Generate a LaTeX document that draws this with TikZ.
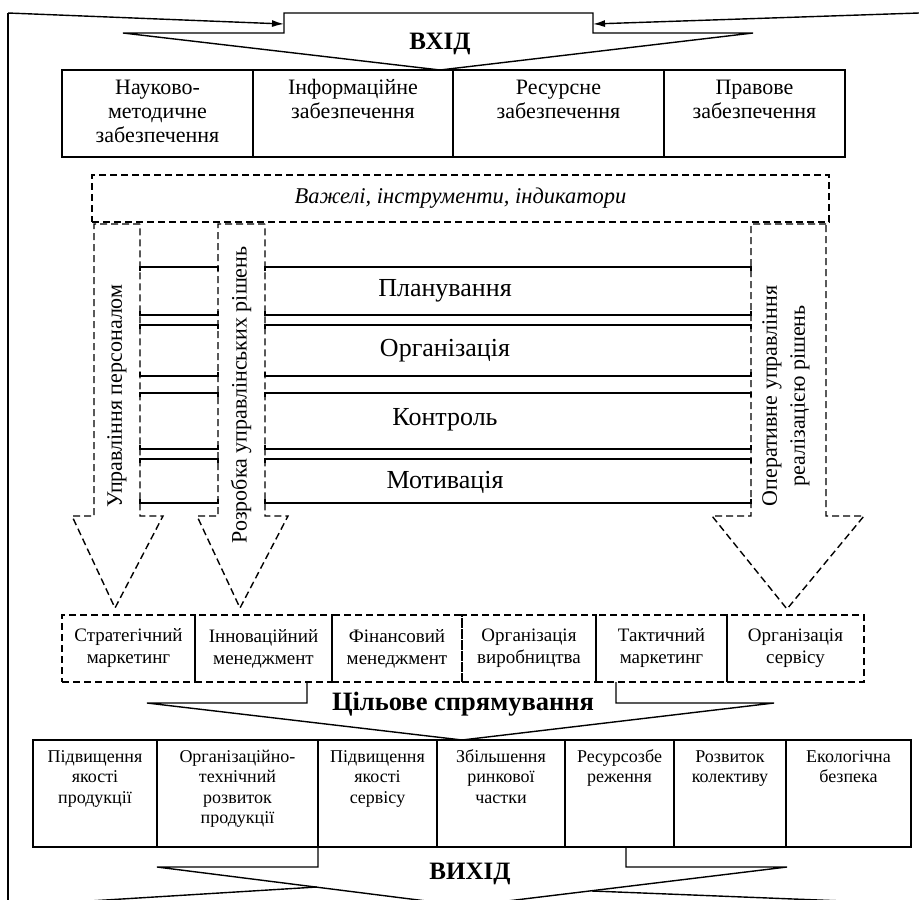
\documentclass[tikz,border=0pt]{standalone}
\usepackage{fontspec}
\setmainfont{Liberation Serif}
\usetikzlibrary{arrows.meta}

% top-aligned text inside a fixed cell
\newcommand{\boxtext}[3]{\parbox[c][#2][t]{#1}{\centering\strut #3}}

\begin{document}
\begin{tikzpicture}[x=1pt,y=-1pt,line width=1.4pt,
  inbox/.style={draw,inner sep=0pt,minimum height=87pt,font=\fontsize{22}{24}\selectfont},
  fbox/.style={draw,dash pattern=on 7pt off 4pt,inner sep=0pt,minimum height=67pt,align=center,font=\fontsize{19}{22}\selectfont},
  gbox/.style={draw,inner sep=0pt,minimum height=107pt,font=\fontsize{18}{20.5}\selectfont},
  dline/.style={dash pattern=on 7pt off 4pt},
  funct/.style={font=\fontsize{26}{30}\selectfont},
  colt/.style={rotate=90,align=center,font=\fontsize{22}{28}\selectfont},
  bigbold/.style={font=\fontsize{25}{28}\selectfont\bfseries},
  tip/.style={-{Latex[length=12pt,width=7pt]}}]
  \useasboundingbox (0,0) rectangle (919,900);
  \clip (0,0) rectangle (919,900);

  % input
  \draw (284,13) -- (593,13) -- (593,33) -- (753,33) -- (440,70) -- (123,33) -- (284,33) -- cycle;
  \node[bigbold] (vhid) at (440,44) {ВХІД};
  \coordinate (lc) at (8,13);
  \coordinate (rc) at (919,13);
  \draw (8,906) -- (lc);
  \draw[tip] (lc) -- (284,24);
  \draw[tip] (rc) -- (593,24);

  \node[inbox,minimum width=191pt] (nmz) at (157.5,113.5) {\boxtext{185pt}{71pt}{Науково-\\методичне\\забезпечення}};
  \node[inbox,minimum width=200pt] (info) at (353,113.5) {\boxtext{194pt}{71pt}{Інформаційне\\забезпечення}};
  \node[inbox,minimum width=211pt] (res) at (558.5,113.5) {\boxtext{205pt}{71pt}{Ресурсне\\забезпечення}};
  \node[inbox,minimum width=181pt] (prav) at (754.5,113.5) {\boxtext{175pt}{71pt}{Правове\\забезпечення}};

  \node[draw,dline,minimum width=737pt,minimum height=47pt,font=\fontsize{22.5}{26}\selectfont\itshape] (levers) at (460.5,198.5) {Важелі, інструменти, індикатори};

  % functions
  \foreach \ya/\yb in {267/315, 325/376, 393/449, 459/503} {
    \foreach \xa/\xb in {140/218, 265/751} {
      \draw (\xa,\ya+4) -- (\xa,\ya) -- (\xb,\ya) -- (\xb,\ya+4);
      \draw (\xa,\yb-4) -- (\xa,\yb) -- (\xb,\yb) -- (\xb,\yb-4);
    }
  }
  \node[funct] (plan) at (445,291) {Планування};
  \node[funct] (org) at (445,351) {Організація};
  \node[funct] (kontr) at (445,420) {Контроль};
  \node[funct] (motiv) at (445,482) {Мотивація};

  \draw[dline] (140,224) -- (94,224) -- (94,516) -- (72,516) -- (115,608) -- (163,516) -- (140,516) -- cycle;
  \draw[dline] (265,224) -- (218,224) -- (218,516) -- (197,516) -- (240,608) -- (288,516) -- (265,516) -- cycle;
  \draw[dline] (826,224) -- (751,224) -- (751,516) -- (712,516) -- (787,609) -- (864,516) -- (826,516) -- cycle;
  \node[colt] (kpers) at (117,396) {Управління персоналом};
  \node[colt] (krish) at (241,395) {Розробка управлінських рішень};
  \node[colt] (koper) at (786,396) {Оперативне управління\\реалізацією рішень};

  \node[fbox,minimum width=133pt] (sm) at (128.5,648.5) {Стратегічний\\маркетинг};
  \node[fbox,minimum width=137pt] (im) at (263.5,648.5) {Інноваційний\\менеджмент};
  \node[fbox,minimum width=130pt] (fm) at (397,648.5) {Фінансовий\\менеджмент};
  \node[fbox,minimum width=134pt] (ov) at (529,648.5) {Організація\\виробництва};
  \node[fbox,minimum width=131pt] (tm) at (661.5,648.5) {Тактичний\\маркетинг};
  \node[fbox,minimum width=137pt] (os) at (795.5,648.5) {Організація\\сервісу};

  % goals
  \draw (307,682) -- (307,703) -- (147,703) -- (462,740) -- (774,703) -- (616,703) -- (616,682);
  \node[bigbold,font=\fontsize{26.5}{30}\selectfont\bfseries] (cil) at (463,704) {Цільове спрямування};

  \node[gbox,minimum width=124pt] (pyak) at (95,793.5) {\boxtext{122pt}{91pt}{Підвищення\\якості\\продукції}};
  \node[gbox,minimum width=161pt] (ortr) at (237.5,793.5) {\boxtext{157pt}{91pt}{Організаційно-\\технічний\\розвиток\\продукції}};
  \node[gbox,minimum width=119pt] (pys) at (377.5,793.5) {\boxtext{117pt}{91pt}{Підвищення\\якості\\сервісу}};
  \node[gbox,minimum width=128pt] (zrch) at (501,793.5) {\boxtext{124pt}{91pt}{Збільшення\\ринкової\\частки}};
  \node[gbox,minimum width=109pt] (rz) at (619.5,793.5) {\boxtext{107pt}{91pt}{Ресурсозбе\\реження}};
  \node[gbox,minimum width=112pt] (rk) at (730,793.5) {\boxtext{108pt}{91pt}{Розвиток\\колективу}};
  \node[gbox,minimum width=125pt] (eb) at (848.5,793.5) {\boxtext{121pt}{91pt}{Екологічна\\безпека}};

  % output
  \draw (318,847) -- (318,867) -- (157,867) -- (466,906) -- (787,867) -- (626,867) -- (626,847);
  \node[bigbold] (vyhid) at (470,874) {ВИХІД};
  \draw (317,887) -- (8,906);
  \draw (592,891) -- (919,904);
\end{tikzpicture}
\end{document}
